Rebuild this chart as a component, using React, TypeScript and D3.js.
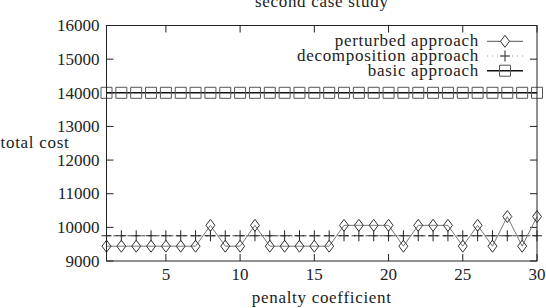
import React from "react";
import * as d3 from "d3";

const penalty: number[] = Array.from({ length: 30 }, (_, i) => i + 1);
const perturbed: number[] = [
  9440, 9440, 9440, 9440, 9440, 9440, 9440, 10060, 9440, 9440,
  10060, 9440, 9440, 9440, 9440, 9440, 10060, 10060, 10060, 10060,
  9440, 10060, 10060, 10060, 9440, 10060, 9440, 10320, 9440, 10320,
];
const decomposition: number[] = Array(30).fill(9750);
const basic: number[] = Array(30).fill(14000);
const xTicks: number[] = [5, 10, 15, 20, 25, 30];
const yTicks: number[] = [9000, 10000, 11000, 12000, 13000, 14000, 15000, 16000];
const legendLabels: string[] = ["perturbed approach", "decomposition approach", "basic approach"];

const W = 546;
const H = 308;
const FONT = "Liberation Serif";
const FS = 17;

export default function App() {
  const x = d3.scaleLinear().domain([1, 30]).range([106.5, 537]);
  const y = d3.scaleLinear().domain([9000, 16000]).range([261, 25.5]);
  const [x0, x1] = x.range();
  const [y0, y1] = y.range();
  const tick = 7;

  const line = d3
    .line<number>()
    .x((_, i) => x(penalty[i]))
    .y((d) => y(d));

  const diamond = (cx: number, cy: number) =>
    `M${cx},${cy - 6}L${cx + 4.5},${cy}L${cx},${cy + 6}L${cx - 4.5},${cy}Z`;
  const plus = (cx: number, cy: number) =>
    `M${cx - 5},${cy}L${cx + 5},${cy}M${cx},${cy - 5.5}L${cx},${cy + 5.5}`;
  const square = (cx: number, cy: number) =>
    `M${cx - 5.5},${cy - 5.5}h11v11h-11Z`;

  const legX0 = 487;
  const legX1 = 523;
  const legMid = (legX0 + legX1) / 2;
  const legY = [41.3, 56, 70.7];
  const txt = { fontFamily: FONT, fontSize: FS } as React.CSSProperties;
  const words = { fontFamily: FONT, fontSize: FS, letterSpacing: "0.7px" } as React.CSSProperties;

  return (
    <svg
      width={W}
      height={H}
      style={{ position: "absolute", left: 0, top: 0, background: "#fff" }}
    >
      <rect width={W} height={H} fill="#fff" />
      {/* title */}
      <text x={(x0 + x1) / 2} y={7} textAnchor="middle" fill="#222" style={words}>
        second case study
      </text>

      {/* y ticks */}
      {yTicks.map((t) => (
        <g key={"y" + t}>
          <line x1={x0} x2={x0 + tick} y1={y(t)} y2={y(t)} stroke="#222" />
          <line x1={x1} x2={x1 - tick} y1={y(t)} y2={y(t)} stroke="#222" />
          <text x={x0 - 7} y={y(t)} dy="0.34em" textAnchor="end" fill="#222" style={txt}>
            {t}
          </text>
        </g>
      ))}
      {/* x ticks */}
      {xTicks.map((t) => (
        <g key={"x" + t}>
          <line x1={x(t)} x2={x(t)} y1={y0} y2={y0 - tick} stroke="#222" />
          <line x1={x(t)} x2={x(t)} y1={y1} y2={y1 + tick} stroke="#222" />
          <text x={x(t)} y={y0 + 19} textAnchor="middle" fill="#222" style={txt}>
            {t}
          </text>
        </g>
      ))}

      {/* axis labels */}
      <text x={35} y={(y0 + y1) / 2} dy="0.3em" textAnchor="middle" fill="#222" style={words}>
        total cost
      </text>
      <text x={(x0 + x1) / 2} y={303} textAnchor="middle" fill="#222" style={words}>
        penalty coefficient
      </text>

      {/* basic approach */}
      <path d={line(basic) || ""} fill="none" stroke="#111" strokeWidth={1.4} />
      {basic.map((v, i) => (
        <path key={"b" + i} d={square(x(penalty[i]), y(v))} fill="none" stroke="#555" strokeWidth={1} />
      ))}

      {/* decomposition approach */}
      <path d={line(decomposition) || ""} fill="none" stroke="#444" strokeWidth={1} strokeDasharray="4,3" />
      {decomposition.map((v, i) => (
        <path key={"d" + i} d={plus(x(penalty[i]), y(v))} fill="none" stroke="#222" strokeWidth={1} />
      ))}

      {/* perturbed approach */}
      <path d={line(perturbed) || ""} fill="none" stroke="#777" strokeWidth={1} />
      {perturbed.map((v, i) => (
        <path key={"p" + i} d={diamond(x(penalty[i]), y(v))} fill="none" stroke="#333" strokeWidth={1} />
      ))}

      {/* legend */}
      {legendLabels.map((lab, i) => (
        <g key={"l" + i}>
          <text x={479} y={legY[i]} dy="0.3em" textAnchor="end" fill="#222" style={words}>
            {lab}
          </text>
          {i === 0 && (
            <>
              <line x1={legX0} x2={legX1} y1={legY[i]} y2={legY[i]} stroke="#555" strokeWidth={1} />
              <path d={diamond(legMid, legY[i])} fill="#fff" stroke="#333" />
            </>
          )}
          {i === 1 && (
            <>
              <line x1={legX0} x2={legX1} y1={legY[i]} y2={legY[i]} stroke="#999" strokeWidth={1} strokeDasharray="1,4" />
              <path d={plus(legMid, legY[i])} fill="none" stroke="#222" />
            </>
          )}
          {i === 2 && (
            <>
              <line x1={legX0} x2={legX1} y1={legY[i]} y2={legY[i]} stroke="#111" strokeWidth={1.4} />
              <path d={square(legMid, legY[i])} fill="none" stroke="#555" />
            </>
          )}
        </g>
      ))}

      {/* frame */}
      <rect x={x0} y={y1} width={x1 - x0} height={y0 - y1} fill="none" stroke="#222" strokeWidth={1} />
    </svg>
  );
}
